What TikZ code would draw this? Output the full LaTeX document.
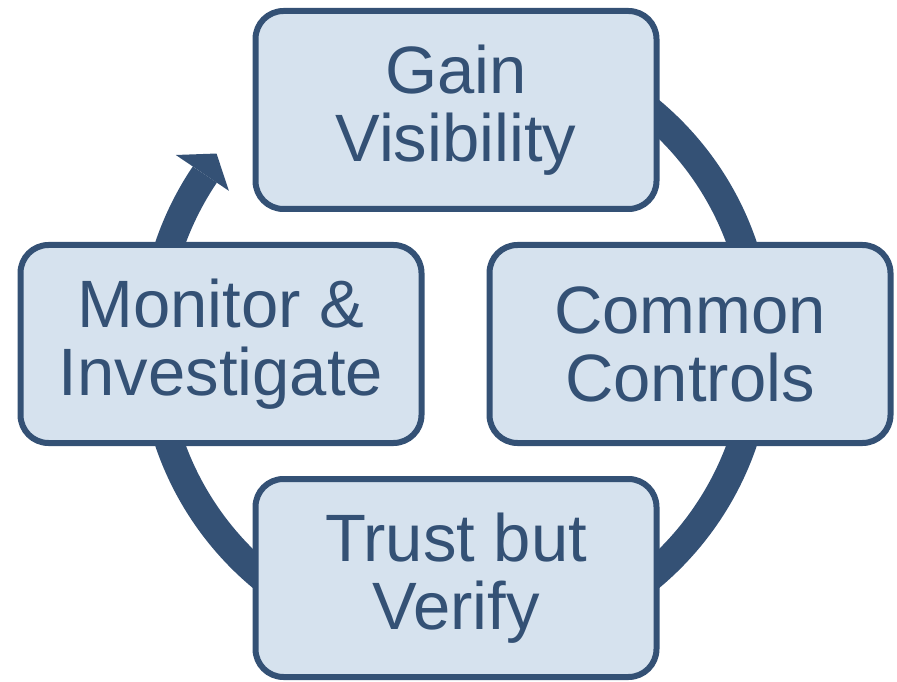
\documentclass[tikz,border=0pt]{standalone}
\usepackage{fontspec}
\setmainfont{Liberation Sans}
\usepackage{tikz}
\usetikzlibrary{arrows,positioning,shapes.geometric}
\definecolor{ringblue}{RGB}{52,81,117}
\definecolor{boxfill}{RGB}{214,226,238}
\tikzset{font=\fontsize{67}{68}\selectfont}
\tikzstyle{stage}=[rectangle,rounded corners=28pt,draw=ringblue,fill=boxfill,line width=6pt,
  minimum width=401pt,minimum height=198pt,inner sep=0pt,align=center,text=ringblue]
\tikzstyle{ring}=[draw=ringblue,line width=29pt]

\begin{document}
\begin{tikzpicture}[x=1pt,y=1pt]
\useasboundingbox (0,0) rectangle (897,681);
\coordinate (O) at (456,337);
% cycle arrow behind the boxes
\draw[ring] (O) ++(100:303) arc[start angle=100,end angle=-214,radius=303];
\fill[ringblue] ([shift={(146:274)}]O) -- ([shift={(141.5:306)}]O) -- ([shift={(146:338)}]O) -- cycle;
\node[stage] (gain) at (456,571) {Gain\\Visibility};
\node[stage] (ctrl) at (690,337) {Common\\Controls};
\node[stage] (trust) at (456,103) {Trust but\\Verify};
\node[stage] (mon) at (221,337) {Monitor \&\\Investigate};
\end{tikzpicture}
\end{document}
